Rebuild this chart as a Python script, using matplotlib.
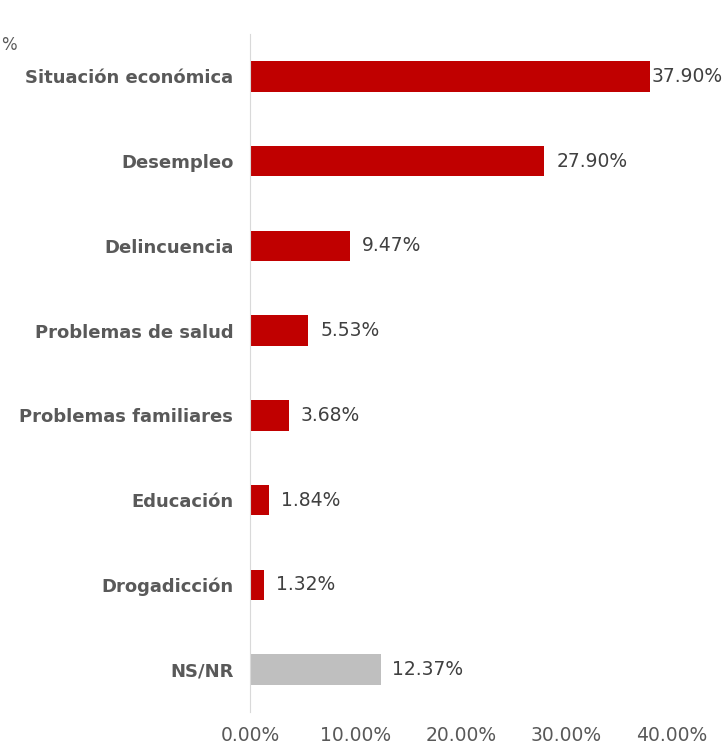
import matplotlib.pyplot as plt

categorias = ['Situación económica', 'Desempleo', 'Delincuencia', 'Problemas de salud',
              'Problemas familiares', 'Educación', 'Drogadicción', 'NS/NR']
valores = [37.90, 27.90, 9.47, 5.53, 3.68, 1.84, 1.32, 12.37]
colores = ['#c00000'] * 7 + ['#bfbfbf']
ticks_x = [0, 10, 20, 30, 40]

gris = '#595959'
plt.rcParams['font.family'] = ['DejaVu Sans']

fig = plt.figure(figsize=(7.27, 7.46), dpi=100)
ax = fig.add_axes([250 / 727, 34 / 746, (672 - 250) / 727, (712 - 34) / 746])

pos = list(range(len(categorias)))
ax.barh(pos, valores, height=0.36, color=colores)
ax.set_ylim(len(categorias) - 0.5, -0.5)
ax.set_xlim(0, 40)

ax.set_yticks(pos)
ax.set_yticklabels(categorias, fontsize=13, fontweight='bold', color=gris)
ax.set_xticks(ticks_x)
ax.set_xticklabels([f'{t:.2f}%' for t in ticks_x], fontsize=13.5, color=gris)
ax.tick_params(length=0, axis='y', pad=12)
ax.tick_params(length=0, axis='x', pad=10)

for s in ['top', 'right', 'bottom']:
    ax.spines[s].set_visible(False)
ax.spines['left'].set_color('#d9d9d9')

for i, v in enumerate(valores):
    off = 1.5 if v > 35 else 8.5
    ax.annotate(f'{v:.2f}%', (v, i), xytext=(off, 0), textcoords='offset points',
                va='center', ha='left', fontsize=13.5, color='#404040', annotation_clip=False)

fig.text(0.001, 1 - 45 / 746, '%', fontsize=12, color=gris, va='center')

fig.savefig('out.png', dpi=100)
